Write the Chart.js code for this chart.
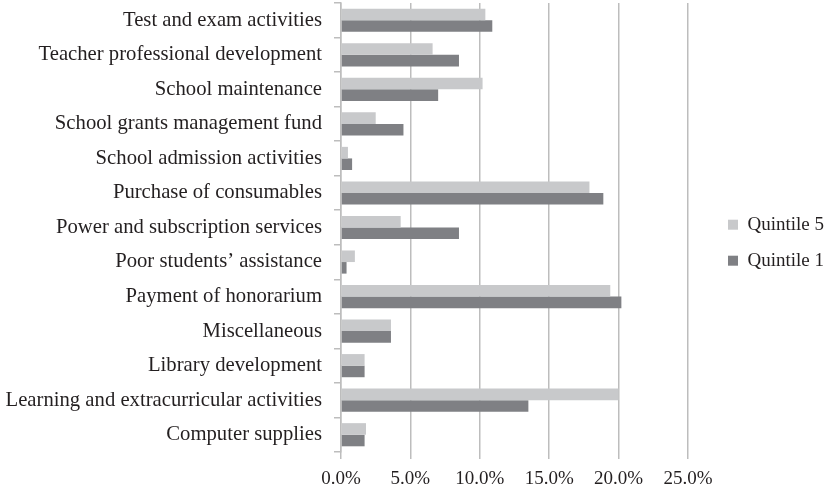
<!DOCTYPE html>
<html>
<head>
<meta charset="utf-8">
<script src="https://cdn.jsdelivr.net/npm/chart.js@4"></script>
<style>
  html, body { margin: 0; padding: 0; background: #fff; }
  #wrap { width: 828px; height: 491px; }
</style>
</head>
<body>
<div id="wrap"><canvas id="chart"></canvas></div>
<script>
// categories, top to bottom
const categories = [
    'Test and exam activities',
    'Teacher professional development',
    'School maintenance',
    'School grants management fund',
    'School admission activities',
    'Purchase of consumables',
    'Power and subscription services',
    'Poor students\u2019 assistance',
    'Payment of honorarium',
    'Miscellaneous',
    'Library development',
    'Learning and extracurricular activities',
    'Computer supplies'
];

// share of spending, percent
const quintile5 = [10.4, 6.6, 10.2, 2.5, 0.5, 17.9, 4.3, 1.0, 19.4, 3.6, 1.7, 20.0, 1.8];
const quintile1 = [10.9, 8.5, 7.0, 4.5, 0.8, 18.9, 8.5, 0.4, 20.2, 3.6, 1.7, 13.5, 1.7];

const xTicks = [0, 5, 10, 15, 20, 25];

const serif = '"Liberation Serif", "DejaVu Serif", serif';
const textColor = '#231f20';
const lineColor = '#bdbdbd';

const ctx = document.getElementById('chart').getContext('2d');
new Chart(ctx, {
    type: 'bar',
    data: {
        labels: categories,
        datasets: [
            { label: 'Quintile 5', data: quintile5, backgroundColor: '#c8c9cb', xAxisID: 'x', yAxisID: 'y' },
            { label: 'Quintile 1', data: quintile1, backgroundColor: '#7f8084', xAxisID: 'x', yAxisID: 'y' }
        ]
    },
    options: {
        indexAxis: 'y',
        responsive: true,
        maintainAspectRatio: false,
        animation: false,
        layout: { padding: { top: 3, right: 0, bottom: 0, left: 0 } },
        datasets: {
            bar: { categoryPercentage: 0.67, barPercentage: 1.0 }
        },
        plugins: {
            legend: {
                position: 'right',
                align: 'start',
                maxWidth: 117,
                // empty title only pushes the items down to the middle
                title: {
                    display: true,
                    text: ' ',
                    font: { size: 1 },
                    padding: { top: 0, bottom: 194 }
                },
                labels: {
                    boxWidth: 10,
                    boxHeight: 10,
                    padding: 17,
                    color: textColor,
                    font: { family: serif, size: 19 }
                }
            },
            tooltip: { enabled: false }
        },
        scales: {
            x: {
                min: 0,
                max: 25,
                afterBuildTicks: axis => { axis.ticks = xTicks.map(v => ({ value: v })); },
                afterFit: axis => { axis.height = 39; },
                ticks: {
                    color: textColor,
                    font: { family: serif, size: 19 },
                    padding: 9,
                    callback: v => v.toFixed(1) + '%'
                },
                grid: { color: lineColor, lineWidth: 1.5, tickLength: 7 },
                border: { display: false }
            },
            y: {
                afterFit: axis => {
                    axis.width = 341;
                    axis.paddingTop = 0;
                    axis.paddingBottom = 0;
                },
                ticks: { color: textColor, font: { family: serif, size: 20.7 }, padding: 12 },
                grid: {
                    drawOnChartArea: false,
                    tickLength: 7,
                    color: lineColor,
                    lineWidth: 1.5
                },
                border: { color: lineColor, width: 1.5 }
            },
            // empty space between the plot and the legend
            gap: {
                type: 'linear',
                position: 'right',
                afterFit: axis => { axis.width = 23; },
                ticks: { display: false },
                grid: { display: false },
                border: { display: false }
            }
        }
    }
});
</script>
</body>
</html>
